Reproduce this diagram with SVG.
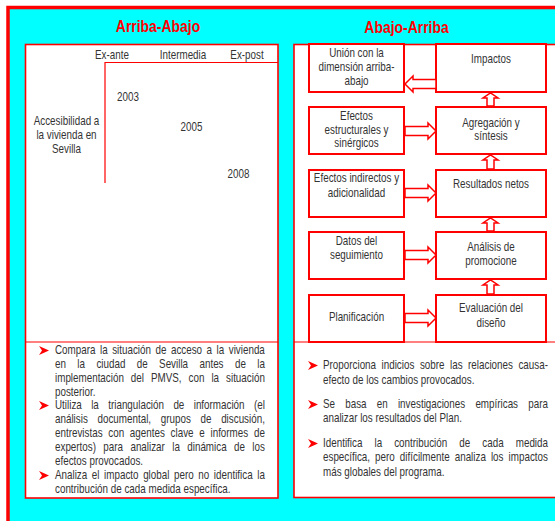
<svg xmlns="http://www.w3.org/2000/svg" width="555" height="521" viewBox="0 0 555 521">
<style>
.t{font-family:"Liberation Sans",Arial,sans-serif;font-size:12px;fill:#333}
.c{text-anchor:middle}
.h{font-family:"Liberation Sans",Arial,sans-serif;font-size:17px;font-weight:bold;fill:#f00;text-anchor:middle}
.pan{fill:#fff;stroke:#f00;stroke-width:1.6}
.box{fill:#fff;stroke:#f00;stroke-width:2}
.arr{fill:#fff;stroke:#f00;stroke-width:1.5}
.ln{stroke:#f00;stroke-width:1.2;fill:none}
.bul{fill:#f00}
</style>
<defs>
<path id="b" d="M0,0 L10,4.5 L0,9 L3,4.5 Z"/>
</defs>
<rect width="555" height="521" fill="#fff"/>
<rect x="8" y="7.5" width="620" height="600" fill="#0ff" stroke="#f00" stroke-width="3.5"/>

<g id="left-panel">
<text class="h" transform="matrix(0.82,0,0,1,158,31.5)">Arriba-Abajo</text>
<rect class="pan" x="25.5" y="44.5" width="252.5" height="453.5"/>
<line class="ln" x1="25.5" y1="342" x2="278" y2="342"/>
<path class="ln" d="M105,183 V62.5 H278"/>
<text class="t c" transform="matrix(0.82,0,0,1,112,59)">Ex-ante</text>
<text class="t c" transform="matrix(0.82,0,0,1,183,59)">Intermedia</text>
<text class="t c" transform="matrix(0.82,0,0,1,247,59)">Ex-post</text>
<text class="t c" transform="matrix(0.82,0,0,1,66.5,124.5)">Accesibilidad a</text>
<text class="t c" transform="matrix(0.82,0,0,1,66.5,138.5)">la vivienda en</text>
<text class="t c" transform="matrix(0.82,0,0,1,66.5,152.5)">Sevilla</text>
<text class="t c" transform="matrix(0.82,0,0,1,128,100.5)">2003</text>
<text class="t c" transform="matrix(0.82,0,0,1,191.5,131)">2005</text>
<text class="t c" transform="matrix(0.82,0,0,1,238.5,178)">2008</text>
<use href="#b" class="bul" x="39" y="346"/>
<text class="t" transform="matrix(0.82,0,0,1,55,354)" style="word-spacing:2.17px">Compara la situación de acceso a la vivienda</text>
<text class="t" transform="matrix(0.82,0,0,1,55,368)" style="word-spacing:10.56px">en la ciudad de Sevilla antes de la</text>
<text class="t" transform="matrix(0.82,0,0,1,55,382)" style="word-spacing:5.18px">implementación del PMVS, con la situación</text>
<text class="t" transform="matrix(0.82,0,0,1,55,396)">posterior.</text>
<use href="#b" class="bul" x="39" y="401"/>
<text class="t" transform="matrix(0.82,0,0,1,55,409)" style="word-spacing:8.12px">Utiliza la triangulación de información (el</text>
<text class="t" transform="matrix(0.82,0,0,1,55,423)" style="word-spacing:8.48px">análisis documental, grupos de discusión,</text>
<text class="t" transform="matrix(0.82,0,0,1,55,437)" style="word-spacing:3.65px">entrevistas con agentes clave e informes de</text>
<text class="t" transform="matrix(0.82,0,0,1,55,451)" style="word-spacing:5.65px">expertos) para analizar la dinámica de los</text>
<text class="t" transform="matrix(0.82,0,0,1,55,465)">efectos provocados.</text>
<use href="#b" class="bul" x="39" y="471"/>
<text class="t" transform="matrix(0.82,0,0,1,55,479)" style="word-spacing:2.27px">Analiza el impacto global pero no identifica la</text>
<text class="t" transform="matrix(0.82,0,0,1,55,493)">contribución de cada medida específica.</text>
</g>

<g id="right-panel">
<text class="h" transform="matrix(0.82,0,0,1,406.5,33)">Abajo-Arriba</text>
<rect class="pan" x="294" y="44.5" width="300" height="453"/>
<line class="ln" x1="294" y1="342" x2="555" y2="342"/>
<use href="#b" class="bul" x="308" y="361"/>
<text class="t" transform="matrix(0.82,0,0,1,323,369)" style="word-spacing:3.4px">Proporciona indicios sobre las relaciones causa-</text>
<text class="t" transform="matrix(0.82,0,0,1,323,384)">efecto de los cambios provocados.</text>
<use href="#b" class="bul" x="308" y="400"/>
<text class="t" transform="matrix(0.82,0,0,1,323,408)" style="word-spacing:9.12px">Se basa en investigaciones empíricas para</text>
<text class="t" transform="matrix(0.82,0,0,1,323,422)">analizar los resultados del Plan.</text>
<use href="#b" class="bul" x="308" y="439"/>
<text class="t" transform="matrix(0.82,0,0,1,323,447)" style="word-spacing:11.4px">Identifica la contribución de cada medida</text>
<text class="t" transform="matrix(0.82,0,0,1,323,461)" style="word-spacing:2.86px">específica, pero difícilmente analiza los impactos</text>
<text class="t" transform="matrix(0.82,0,0,1,323,476)">más globales del programa.</text>
</g>

<g id="n-union"><rect class="box" x="309" y="44" width="95" height="48"/>
<text class="t c" transform="matrix(0.82,0,0,1,356.5,57)">Unión con la</text><text class="t c" transform="matrix(0.82,0,0,1,356.5,71)">dimensión arriba-</text><text class="t c" transform="matrix(0.82,0,0,1,356.5,85)">abajo</text></g>
<g id="n-impactos"><rect class="box" x="436" y="44" width="110" height="48"/>
<text class="t c" transform="matrix(0.82,0,0,1,491,63)">Impactos</text></g>
<g id="n-efectos-estr"><rect class="box" x="309" y="107" width="95" height="47"/>
<text class="t c" transform="matrix(0.82,0,0,1,356.5,120)">Efectos</text><text class="t c" transform="matrix(0.82,0,0,1,356.5,133.5)">estructurales y</text><text class="t c" transform="matrix(0.82,0,0,1,356.5,147)">sinérgicos</text></g>
<g id="n-agregacion"><rect class="box" x="436" y="107" width="110" height="47"/>
<text class="t c" transform="matrix(0.82,0,0,1,491,127)">Agregación y</text><text class="t c" transform="matrix(0.82,0,0,1,491,140)">síntesis</text></g>
<g id="n-efectos-ind"><rect class="box" x="309" y="170" width="95" height="47"/>
<text class="t c" transform="matrix(0.82,0,0,1,356.5,182)">Efectos indirectos y</text><text class="t c" transform="matrix(0.82,0,0,1,356.5,197)">adicionalidad</text></g>
<g id="n-resultados"><rect class="box" x="436" y="170" width="110" height="47"/>
<text class="t c" transform="matrix(0.82,0,0,1,491,188)">Resultados netos</text></g>
<g id="n-datos"><rect class="box" x="309" y="232" width="95" height="47"/>
<text class="t c" transform="matrix(0.82,0,0,1,356.5,245)">Datos del</text><text class="t c" transform="matrix(0.82,0,0,1,356.5,259)">seguimiento</text></g>
<g id="n-analisis"><rect class="box" x="436" y="232" width="110" height="47"/>
<text class="t c" transform="matrix(0.82,0,0,1,491,251)">Análisis de</text><text class="t c" transform="matrix(0.82,0,0,1,491,265)">promocione</text></g>
<g id="n-planificacion"><rect class="box" x="309" y="295" width="95" height="47"/>
<text class="t c" transform="matrix(0.82,0,0,1,356.5,321)">Planificación</text></g>
<g id="n-evaluacion"><rect class="box" x="436" y="295" width="110" height="47"/>
<text class="t c" transform="matrix(0.82,0,0,1,491,312)">Evaluación del</text><text class="t c" transform="matrix(0.82,0,0,1,491,327)">diseño</text></g>

<g id="connectors">
<polygon class="arr" points="436,79.5 413,79.5 413,76 405,84 413,92 413,88.5 436,88.5"/>
<polygon class="arr" points="405,126.5 428,126.5 428,123 436,131 428,139 428,135.5 405,135.5"/>
<polygon class="arr" points="405,188.5 428,188.5 428,185 436,193 428,201 428,197.5 405,197.5"/>
<polygon class="arr" points="405,250.5 428,250.5 428,247 436,255 428,263 428,259.5 405,259.5"/>
<polygon class="arr" points="405,313.5 428,313.5 428,310 436,318 428,326 428,322.5 405,322.5"/>
<polygon class="arr" points="487,106 487,98 483,98 490.5,93 498,98 494,98 494,106"/>
<polygon class="arr" points="487,169 487,160 483,160 490.5,155 498,160 494,160 494,169"/>
<polygon class="arr" points="487,231 487,223 483,223 490.5,218 498,223 494,223 494,231"/>
<polygon class="arr" points="487,294 487,285 483,285 490.5,280 498,285 494,285 494,294"/>
</g>
</svg>
